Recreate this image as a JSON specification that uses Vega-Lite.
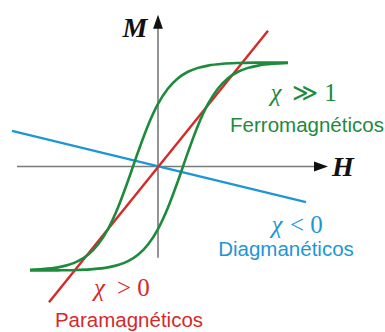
{
  "$schema": "https://vega.github.io/schema/vega-lite/v6.json",
  "width": 385,
  "height": 332,
  "autosize": {"type": "fit", "contains": "padding"},
  "padding": 0,
  "background": "white",
  "config": {"view": {"stroke": null}},
  "datasets": {
    "axes": [
      {"axis": "H", "H1": -141, "M1": 0, "H2": 160, "M2": 0},
      {"axis": "M", "H1": 0, "M1": -92, "H2": 0, "M2": 146}
    ],
    "arrows": [
      {"axis": "H", "H": 163, "M": 0, "dir": "right"},
      {"axis": "M", "H": 0, "M": 146, "dir": "up"}
    ],
    "linear": [
      {"material": "Diamagnético", "H": -146, "M": 36},
      {"material": "Diamagnético", "H": 148, "M": -36},
      {"material": "Paramagnético", "H": -109, "M": -137},
      {"material": "Paramagnético", "H": 110, "M": 137}
    ],
    "loop": [
      {"branch": "upper", "H": -128, "M": -104.3},
      {"branch": "upper", "H": -115, "M": -103.6},
      {"branch": "upper", "H": -100, "M": -101.8},
      {"branch": "upper", "H": -90, "M": -99.5},
      {"branch": "upper", "H": -80, "M": -95.6},
      {"branch": "upper", "H": -70, "M": -89.1},
      {"branch": "upper", "H": -60, "M": -78.7},
      {"branch": "upper", "H": -50, "M": -63.1},
      {"branch": "upper", "H": -40, "M": -41.4},
      {"branch": "upper", "H": -30, "M": -14.5},
      {"branch": "upper", "H": -20, "M": 14.5},
      {"branch": "upper", "H": -10, "M": 41.4},
      {"branch": "upper", "H": 0, "M": 63.1},
      {"branch": "upper", "H": 10, "M": 78.7},
      {"branch": "upper", "H": 20, "M": 89.1},
      {"branch": "upper", "H": 30, "M": 95.6},
      {"branch": "upper", "H": 40, "M": 99.5},
      {"branch": "upper", "H": 50, "M": 101.8},
      {"branch": "upper", "H": 65, "M": 103.6},
      {"branch": "upper", "H": 80, "M": 104.4},
      {"branch": "upper", "H": 100, "M": 104.8},
      {"branch": "upper", "H": 130, "M": 105},
      {"branch": "lower", "H": -128, "M": -105},
      {"branch": "lower", "H": -100, "M": -104.8},
      {"branch": "lower", "H": -80, "M": -104.4},
      {"branch": "lower", "H": -65, "M": -103.6},
      {"branch": "lower", "H": -50, "M": -101.8},
      {"branch": "lower", "H": -40, "M": -99.5},
      {"branch": "lower", "H": -30, "M": -95.6},
      {"branch": "lower", "H": -20, "M": -89.1},
      {"branch": "lower", "H": -10, "M": -78.7},
      {"branch": "lower", "H": 0, "M": -63.1},
      {"branch": "lower", "H": 10, "M": -41.4},
      {"branch": "lower", "H": 20, "M": -14.5},
      {"branch": "lower", "H": 30, "M": 14.5},
      {"branch": "lower", "H": 40, "M": 41.4},
      {"branch": "lower", "H": 50, "M": 63.1},
      {"branch": "lower", "H": 60, "M": 78.7},
      {"branch": "lower", "H": 70, "M": 89.1},
      {"branch": "lower", "H": 80, "M": 95.6},
      {"branch": "lower", "H": 90, "M": 99.5},
      {"branch": "lower", "H": 100, "M": 101.8},
      {"branch": "lower", "H": 115, "M": 103.6},
      {"branch": "lower", "H": 130, "M": 104.4}
    ],
    "symbols": [
      {"chi": "χ", "rel": "≫ 1", "Hc": 118, "Hr": 134, "M": 66, "kind": "Ferromagnético"},
      {"chi": "χ", "rel": "< 0", "Hc": 119, "Hr": 132, "M": -67, "kind": "Diamagnético"},
      {"chi": "χ", "rel": "> 0", "Hc": -58.5, "Hr": -41, "M": -131, "kind": "Paramagnético"}
    ],
    "names": [
      {"label": "Ferromagnéticos", "H": 149, "M": 35, "kind": "Ferromagnético"},
      {"label": "Diagmanéticos", "H": 128, "M": -90, "kind": "Diamagnético"},
      {"label": "Paramagnéticos", "H": -29, "M": -162, "kind": "Paramagnético"}
    ],
    "axisTitles": [
      {"label": "M", "H": -23, "M": 131},
      {"label": "H", "H": 185, "M": -10}
    ]
  },
  "encoding": {
    "x": {"field": "H", "type": "quantitative", "scale": {"domain": [-158, 227], "nice": false, "zero": false}, "axis": null},
    "y": {"field": "M", "type": "quantitative", "scale": {"domain": [-164, 168], "nice": false, "zero": false}, "axis": null}
  },
  "layer": [
    {
      "data": {"name": "axes"},
      "mark": {"type": "rule", "color": "#7a7a7a", "strokeWidth": 1.6},
      "encoding": {
        "x": {"field": "H1", "type": "quantitative"},
        "y": {"field": "M1", "type": "quantitative"},
        "x2": {"field": "H2"},
        "y2": {"field": "M2"}
      }
    },
    {
      "data": {"name": "arrows"},
      "transform": [{"filter": "datum.dir === 'up'"}],
      "mark": {"type": "point", "filled": true, "color": "#111111", "opacity": 1, "size": 196, "shape": "M0,-1L0.7,1L-0.7,1Z"}
    },
    {
      "data": {"name": "arrows"},
      "transform": [{"filter": "datum.dir === 'right'"}],
      "mark": {"type": "point", "filled": true, "color": "#111111", "opacity": 1, "size": 196, "shape": "M1,0L-1,-0.7L-1,0.7Z"}
    },
    {
      "data": {"name": "linear"},
      "mark": {"type": "line", "strokeWidth": 2.4},
      "encoding": {
        "color": {"field": "material", "type": "nominal", "scale": {"domain": ["Diamagnético", "Paramagnético", "Ferromagnético"], "range": ["#1d96d6", "#d42a2a", "#1e8a3e"]}, "legend": null}
      }
    },
    {
      "data": {"name": "loop"},
      "mark": {"type": "line", "strokeWidth": 2.6, "color": "#1e8a3e", "interpolate": "monotone"},
      "encoding": {"detail": {"field": "branch", "type": "nominal"}}
    },
    {
      "data": {"name": "symbols"},
      "mark": {"type": "text", "font": "Liberation Serif", "fontStyle": "italic", "fontSize": 25, "align": "center", "baseline": "alphabetic"},
      "encoding": {
        "x": {"field": "Hc", "type": "quantitative"},
        "text": {"field": "chi"},
        "color": {"field": "kind", "type": "nominal", "legend": null}
      }
    },
    {
      "data": {"name": "symbols"},
      "mark": {"type": "text", "font": "Liberation Serif", "fontSize": 25, "align": "left", "baseline": "alphabetic"},
      "encoding": {
        "x": {"field": "Hr", "type": "quantitative"},
        "text": {"field": "rel"},
        "color": {"field": "kind", "type": "nominal", "legend": null}
      }
    },
    {
      "data": {"name": "names"},
      "mark": {"type": "text", "font": "Liberation Sans", "fontSize": 20.5, "align": "center", "baseline": "alphabetic"},
      "encoding": {
        "text": {"field": "label"},
        "color": {"field": "kind", "type": "nominal", "legend": null}
      }
    },
    {
      "data": {"name": "axisTitles"},
      "mark": {"type": "text", "font": "Liberation Serif", "fontStyle": "italic", "fontWeight": "bold", "fontSize": 28, "align": "center", "baseline": "alphabetic", "color": "#111111"},
      "encoding": {"text": {"field": "label"}}
    }
  ],
  "resolve": {"scale": {"color": "shared"}}
}
